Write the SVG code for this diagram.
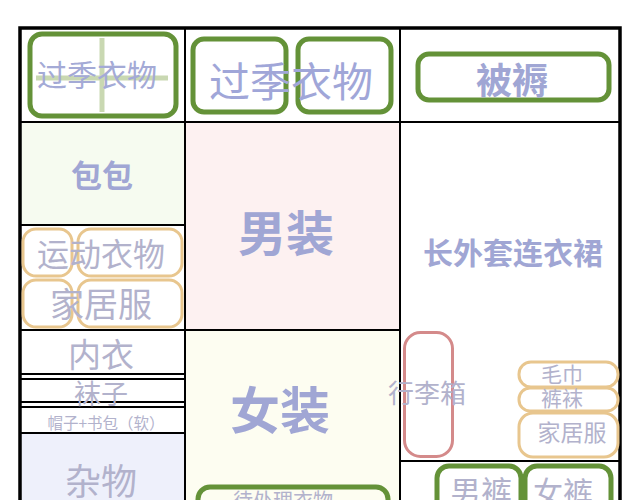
<svg xmlns="http://www.w3.org/2000/svg" width="640" height="500" viewBox="0 0 640 500">
<style>
text{font-family:"Noto Sans CJK SC","Noto Sans",sans-serif;text-anchor:middle}
.b{fill:#a0a6d4;font-weight:bold}
.l{fill:#b2b2cc}
.g{fill:none;stroke:#649238;stroke-width:5}
.o{fill:none;stroke:#e8c68e;stroke-width:3}
.ln{stroke:#000;stroke-width:2}
</style>
<rect width="640" height="500" fill="#fff"/>
<g id="cells">
<rect x="20" y="122" width="165" height="103" fill="#f6fbf0"/>
<rect x="185" y="122" width="215" height="208" fill="#fdf1f1"/>
<rect x="185" y="330" width="215" height="170" fill="#fdfdf1"/>
<rect x="20" y="433" width="165" height="67" fill="#eef0fb"/>
</g>
<g id="grid">
<line class="ln" x1="185" y1="28" x2="185" y2="500"/>
<line class="ln" x1="400" y1="28" x2="400" y2="500"/>
<line class="ln" x1="20" y1="122" x2="620" y2="122"/>
<line class="ln" x1="20" y1="225" x2="185" y2="225"/>
<line class="ln" x1="20" y1="330" x2="400" y2="330"/>
<line class="ln" x1="20" y1="374" x2="185" y2="374"/>
<line class="ln" x1="20" y1="379" x2="185" y2="379"/>
<line class="ln" x1="20" y1="402" x2="185" y2="402"/>
<line class="ln" x1="20" y1="407" x2="185" y2="407"/>
<line class="ln" x1="20" y1="433" x2="185" y2="433"/>
<line class="ln" x1="400" y1="461" x2="620" y2="461"/>
<path d="M20,500 V28 H620 V500" fill="none" stroke="#000" stroke-width="3.5"/>
</g>
<g id="n-guoji-left">
<line x1="102" y1="38" x2="102" y2="112" stroke="#c9d8b2" stroke-width="5"/>
<line x1="36" y1="78" x2="168" y2="78" stroke="#c9d8b2" stroke-width="5"/>
<rect class="g" x="30" y="34" width="146" height="82" rx="12"/>
<text x="97" y="86" font-size="30" fill="#a4aad6">过季衣物</text>
</g>
<g id="n-guoji-mid">
<rect class="g" x="193" y="39" width="93" height="73" rx="11"/>
<rect class="g" x="298" y="39" width="93" height="73" rx="11"/>
<text x="291" y="97" font-size="41" fill="#a0a6d8">过季衣物</text>
</g>
<g id="n-beiru">
<rect class="g" x="418" y="54" width="191" height="46" rx="11"/>
<text class="b" x="512" y="94" font-size="36">被褥</text>
</g>
<g id="n-baobao"><text class="b" x="102" y="187" font-size="31">包包</text></g>
<g id="n-sport">
<rect class="o" x="23" y="229" width="49" height="47" rx="13"/>
<rect class="o" x="78" y="229" width="104" height="47" rx="13"/>
<rect class="o" x="23" y="280" width="49" height="47" rx="13"/>
<rect class="o" x="78" y="280" width="104" height="47" rx="13"/>
<text class="l" x="101" y="266" font-size="32">运动衣物</text>
<text class="l" x="101" y="317" font-size="34">家居服</text>
</g>
<g id="n-neiyi"><text class="l" x="101" y="367" font-size="33">内衣</text></g>
<g id="n-wazi"><text class="l" x="101" y="404" font-size="27">袜子</text></g>
<g id="n-maozi"><text class="l" x="106" y="429" font-size="15.5">帽子+书包（软）</text></g>
<g id="n-zawu"><text class="l" x="101" y="495" font-size="36">杂物</text></g>
<g id="n-nanzhuang"><text class="b" x="286" y="251" font-size="48">男装</text></g>
<g id="n-nvzhuang"><text class="b" x="280" y="429" font-size="50">女装</text></g>
<g id="n-daichuli">
<rect class="g" x="198" y="487" width="190" height="40" rx="12"/>
<text class="l" x="283" y="508" font-size="20">待处理衣物</text>
</g>
<g id="n-changwaitao"><text class="b" x="513" y="264" font-size="30">长外套连衣裙</text></g>
<g id="n-xinglixiang">
<rect x="404.5" y="332.5" width="48" height="124" rx="16" fill="none" stroke="#d48a8a" stroke-width="3"/>
<text class="l" x="427" y="403" font-size="26">行李箱</text>
</g>
<g id="n-right-pills">
<rect class="o" x="519" y="362" width="99" height="25" rx="12"/>
<rect class="o" x="519" y="388" width="99" height="23" rx="11"/>
<rect class="o" x="519" y="413" width="99" height="44" rx="14"/>
<text class="l" x="562" y="382" font-size="21">毛巾</text>
<text class="l" x="562" y="406" font-size="21">裤袜</text>
<text class="l" x="572" y="441" font-size="23">家居服</text>
</g>
<g id="n-kuzi">
<rect class="g" x="437" y="466" width="84" height="50" rx="12"/>
<rect class="g" x="525" y="466" width="86" height="50" rx="12"/>
<text class="l" x="481" y="503" font-size="31">男裤</text>
<text class="l" x="563" y="503" font-size="30">女裤</text>
</g>
<g id="connectors"></g>
</svg>
